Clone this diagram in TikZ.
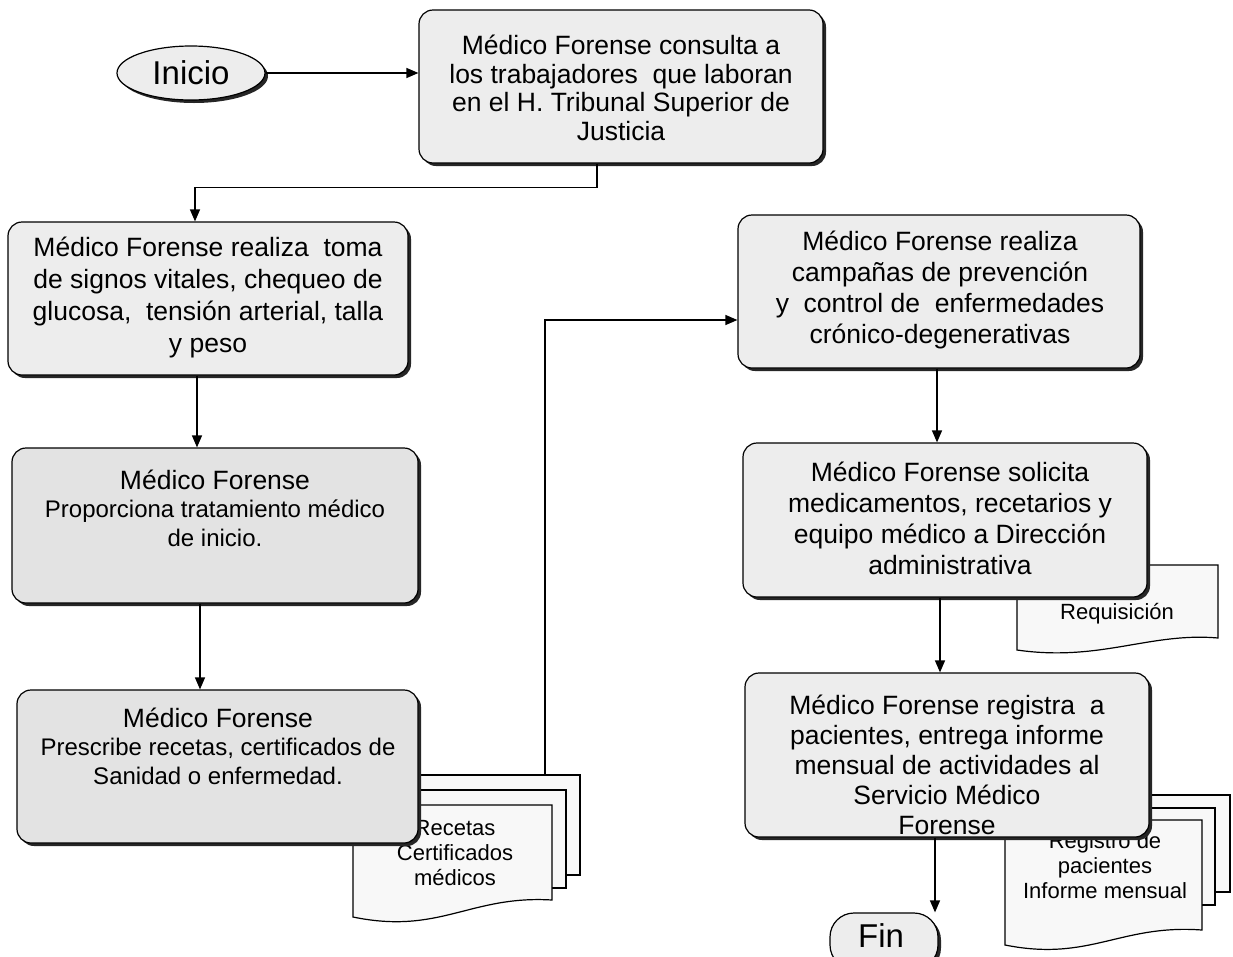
\documentclass[tikz,border=0pt]{standalone}
\usepackage{fontspec}
\setmainfont{Liberation Sans}
\usetikzlibrary{arrows.meta,shadows,shapes.geometric,calc}
\definecolor{boxgray}{HTML}{EDEDED}
\definecolor{boxdark}{HTML}{E3E3E3}
\definecolor{docfill}{HTML}{F8F8F8}
\begin{document}
\begin{tikzpicture}[x=1pt,y=-1pt,
  shad/.style={drop shadow={shadow xshift=3pt,shadow yshift=-3pt,fill=black!85,opacity=1}},
  box/.style={draw=black,line width=1.2pt,rounded corners=14pt,fill=boxgray,shad,inner sep=0pt},
  txt/.style={align=center,inner sep=0pt,font=\fontsize{26.5}{29}\selectfont},
  doc/.style={draw=black,line width=1.2pt,fill=docfill},
  doctxt/.style={align=center,inner sep=0pt,font=\fontsize{22}{25}\selectfont},
  arr/.style={line width=1.3pt,-{Triangle[length=12pt,width=10pt]}},
  term/.style={draw=black,line width=1.2pt,fill=boxgray,shad,inner sep=0pt,font=\fontsize{33}{36}\selectfont}
]
\useasboundingbox (0,0) rectangle (1233,956);

% documents: recetas
\draw[doc] (375,775) rectangle (580,875);
\draw[doc] (364,790) rectangle (566,888);
\draw[doc] (353,805) -- (552,805) -- (552,900) .. controls (470,895) and (440,935) .. (353,917) -- cycle;
\node[doctxt] (rectxt) at (455,853) {Recetas\\Certificados\\médicos};
\coordinate (recout) at (545,775);

% document: requisicion
\draw[doc] (1017,565) -- (1218,565) -- (1218,638) .. controls (1150,632) and (1100,662) .. (1017,650) -- cycle;
\node[doctxt] (reqtxt) at (1117,614) {Requisición};

% documents: registro
\draw[doc] (1030,795) rectangle (1230,892);
\draw[doc] (1018,808) rectangle (1215,905);
\draw[doc] (1005,820) -- (1202,820) -- (1202,930) .. controls (1120,924) and (1090,962) .. (1005,945) -- cycle;
\node[doctxt] (regtxt) at (1105,866) {Registro de\\pacientes\\Informe mensual};

% terminals
\node[term,ellipse,minimum width=148pt,minimum height=54pt] (ini) at (191,73) {Inicio};
\node[term,rounded corners=24pt,minimum width=108pt,minimum height=56pt] (fin) at (884,941) {};
\node[txt,font=\fontsize{33}{36}\selectfont] (fintxt) at (881,936) {Fin};

% boxes
\node[box,minimum width=404pt,minimum height=153pt] (b1) at (621,86.5) {};
\node[box,minimum width=400pt,minimum height=153pt] (b2) at (208,298.5) {};
\node[box,fill=boxdark,minimum width=406pt,minimum height=155pt] (b3) at (215,525.5) {};
\node[box,fill=boxdark,minimum width=401pt,minimum height=153pt] (b4) at (217.5,766.5) {};
\node[box,minimum width=402pt,minimum height=153pt] (b5) at (939,291.5) {};
\node[box,minimum width=404pt,minimum height=154pt] (b6) at (945,520) {};
\node[box,minimum width=404pt,minimum height=164pt] (b7) at (947,755) {};

% texts
\node[txt,font=\fontsize{26.5}{28.7}\selectfont] (t1) at (621,88) {Médico Forense consulta a\\los trabajadores~ que laboran\\en el H. Tribunal Superior de\\Justicia};
\node[txt,font=\fontsize{26.5}{32}\selectfont] (t2) at (208,297) {Médico Forense realiza~ toma\\de signos vitales, chequeo de\\glucosa,~ tensión arterial, talla\\y peso};
\node[txt,font=\fontsize{26.5}{28.5}\selectfont] (t3) at (215,508) {Médico Forense\\{\fontsize{24}{28.5}\selectfont Proporciona tratamiento médico}\\{\fontsize{24}{28.5}\selectfont de inicio.}};
\node[txt,font=\fontsize{26.5}{28.5}\selectfont] (t4) at (218,746) {Médico Forense\\{\fontsize{24}{28.5}\selectfont Prescribe recetas, certificados de}\\{\fontsize{24}{28.5}\selectfont Sanidad o enfermedad.}};
\node[txt,font=\fontsize{26.5}{31}\selectfont] (t5) at (940,290) {Médico Forense realiza\\campañas de prevención\\y~ control de~ enfermedades\\crónico-degenerativas};
\node[txt,font=\fontsize{26.5}{31}\selectfont] (t6) at (950,518.5) {Médico Forense solicita\\medicamentos, recetarios y\\equipo médico a Dirección\\administrativa};
\node[txt,font=\fontsize{26.5}{30}\selectfont] (t7) at (947,765) {Médico Forense registra~ a\\pacientes, entrega informe\\mensual de actividades al\\Servicio Médico\\Forense};

% connectors
\draw[arr] (ini.east) -- (ini.east -| b1.west);
\draw[arr] ([xshift=-24pt]b1.south) -- ++(0,24) -| ([xshift=-13pt]b2.north);
\draw[arr] ([xshift=-11pt]b2.south) -- ([xshift=-11pt]b2.south |- b3.north);
\draw[arr] ([xshift=-15pt]b3.south) -- ([xshift=-15pt]b3.south |- b4.north);
\draw[arr] (recout) |- ([yshift=-28.5pt]b5.west);
\draw[arr] ([xshift=-2pt]b5.south) -- ([xshift=-2pt]b5.south |- b6.north);
\draw[arr] ([xshift=-5pt]b6.south) -- ([xshift=-5pt]b6.south |- b7.north);
\draw[arr] ([xshift=-12pt]b7.south) -- ([xshift=-12pt]b7.south |- fin.north);
\end{tikzpicture}
\end{document}
